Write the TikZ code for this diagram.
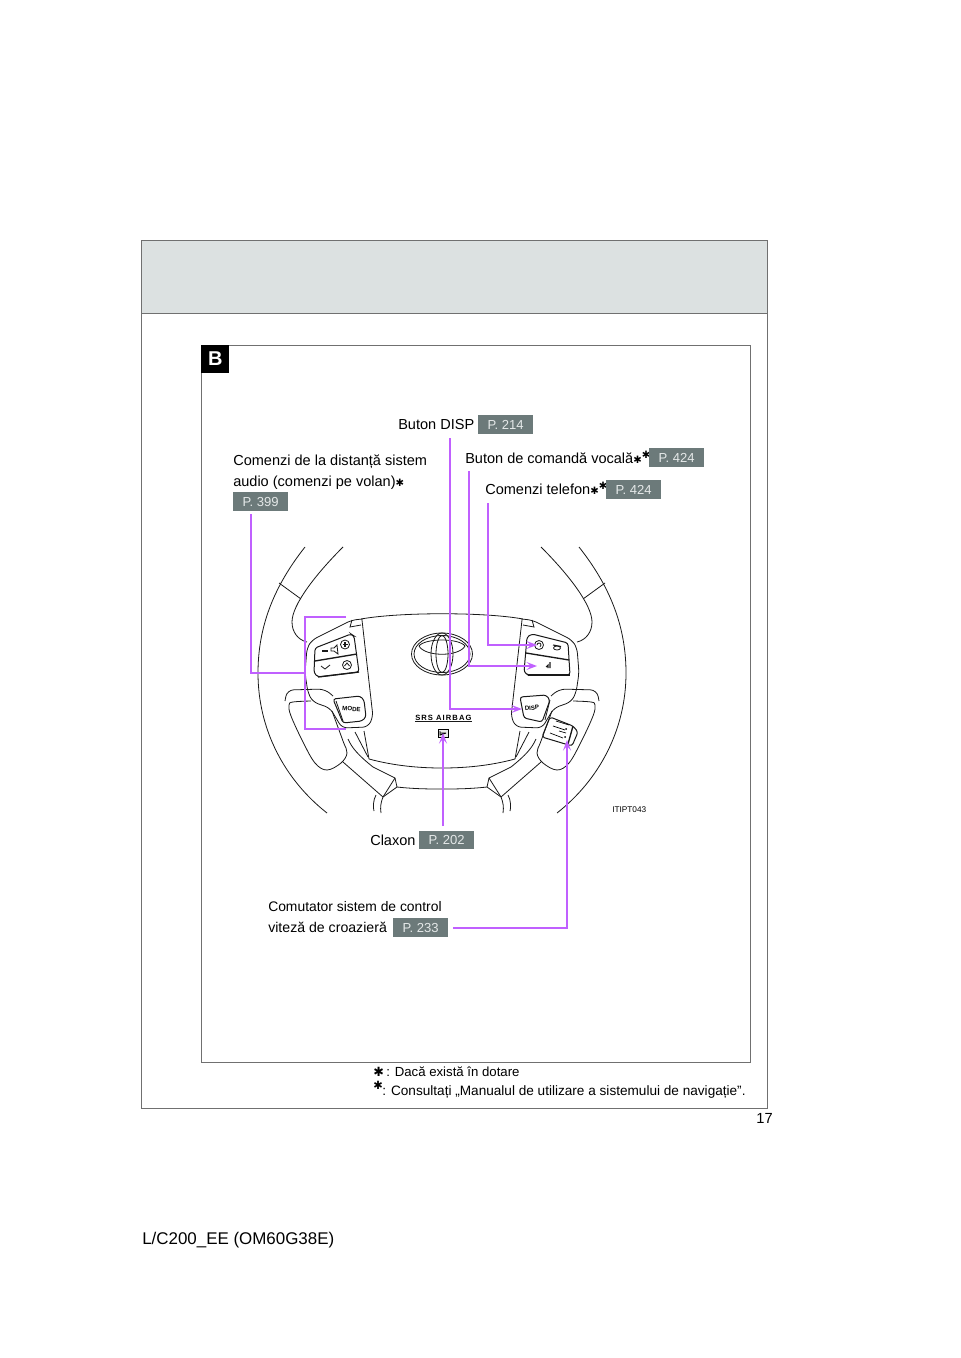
\documentclass[tikz,border=0pt]{standalone}
\usepackage{fontspec}
\setmainfont{Liberation Sans}
\newfontfamily\djv{DejaVu Sans}
\newfontfamily\wide[LetterSpace=14,Scale=1]{Liberation Sans}
\usetikzlibrary{arrows.meta}
\definecolor{mag}{HTML}{C060FF}
\definecolor{tagbg}{HTML}{6C7A7A}
\definecolor{tagfg}{HTML}{E4E8E8}
\definecolor{band}{HTML}{DCE1E1}
\definecolor{frameg}{HTML}{707070}
\newcommand{\myast}{{\djv\fontsize{7.6}{12}\selectfont ✱}}
\newcommand{\astsup}{\raisebox{3.6pt}{\djv\fontsize{7.6}{12}\selectfont ✱}}
\tikzset{
  lab/.style={anchor=base west,inner sep=0pt,font=\fontsize{10.9}{13}\selectfont},
  tag/.style={fill=tagbg,text=tagfg,inner sep=0pt,minimum width=41pt,minimum height=14pt,anchor=north west,font=\fontsize{9.8}{12}\selectfont},
  note/.style={anchor=base west,inner sep=0pt,font=\fontsize{9.9}{12}\selectfont},
  ln/.style={line width=0.6pt,black!90},
  smoothln/.style={ln,smooth,tension=0.6},
  conn/.style={mag,line width=1.1pt},
  arr/.style={conn,-{Stealth[length=8pt,width=6pt,inset=3.5pt]}},
  btn/.style={ln,rounded corners=2pt}
}
\newcommand{\halfwheel}{%
  \draw[ln] (305,547) .. controls (275,585) and (258,625) .. (258,673) .. controls (258,730) and (285,780) .. (327,813);
  \draw[ln] (343,547) .. controls (315,575) and (292,605) .. (292,622) .. controls (292,632) and (298,640) .. (307,642);
  \draw[ln] (279,583) -- (301,599);
  % pad outline
  \draw[ln,rounded corners=4pt] (363,619) -- (352,620) -- (312,640) -- (307,648) -- (305,673) -- (308,693) -- (313,702) -- (330,708) -- (342,728) -- (368,727) -- (373,717) -- (362,620);
  \draw[ln] (352,620) -- (350,627) -- (361,625);
  % arc above grip
  \draw[ln,rounded corners=5pt] (285,701) -- (287,690) -- (325,689) -- (333,696);
  % grip
  \draw[smoothln] plot coordinates {(311,701)(293,702)(289,705)(291,716)(303,742)(315,763)(327,770)(341,763)(347,753)(343,741)(332,711)};
  % lower spoke
  \draw[ln] (343,762) -- (383,797);
  \draw[ln] (348,739) .. controls (352,748) and (358,755) .. (373,767) -- (395,778) -- (397,787) -- (383,797) .. controls (381,802) and (380,807) .. (381,813);
  \draw[ln] (395,778) -- (383,797);
  \draw[ln] (364,731) -- (369,759);
  \draw[ln] (355,732) -- (368,757);
  \draw[ln] (376,795) .. controls (373,800) and (373,808) .. (374,811);
  \draw[ln] (369,759) .. controls (395,766) and (420,768) .. (442,768);
  \draw[ln] (397,787) .. controls (415,789) and (430,789) .. (442,789);
}
\begin{document}
\begin{tikzpicture}[x=0.75pt,y=-0.75pt]
\useasboundingbox (0,0) rectangle (960,1358);
% frames
\fill[band] (141,240) rectangle (768,313.5);
\draw[frameg,line width=0.7pt] (141,240) rectangle (767.5,1108);
\draw[frameg,line width=0.7pt] (141,313.5) -- (767.5,313.5);
\draw[frameg,line width=0.7pt] (201,345) rectangle (750,1062);
\node[fill=black,text=white,minimum width=21pt,minimum height=20.5pt,inner sep=0pt,anchor=north west,font=\bfseries\fontsize{15}{16}\selectfont] (secB) at (201,345) {B};
% wheel
\halfwheel
\begin{scope}[xshift=663pt,xscale=-1]
\halfwheel
\end{scope}
% airbag top
\draw[ln] (361,619) .. controls (400,612) and (485,612) .. (523,619);
% left switches
\draw[btn,line width=0.75pt] (315,648) -- (351,634) -- (354,636) -- (359,672) -- (318,677) -- (314,673) -- cycle;
\draw[ln,line width=1pt] (315,661) -- (357,654);
\draw[ln,line width=1pt] (318,677) -- (359,672);
\draw[ln,line width=1pt] (322,651) -- (328,651);
\draw[ln] (331,648) -- (334,648) -- (337,645) -- (338,654) -- (334,651) -- (331,651) -- cycle;
\draw[ln] (345,644.5) circle (4.5);
\draw[ln,line width=.8pt] (342.5,644.5) -- (347.5,644.5) (345,642) -- (345,647);
\draw[ln] (321,666) -- (325,669) -- (330,665);
\draw[ln] (347,665) circle (4.5);
\draw[ln] (344.5,666) -- (347,663) -- (349.5,666);
% MODE
\draw[btn,line width=0.75pt] (333,699) -- (360,696) -- (364,700) -- (366,717) -- (362,721) -- (343,723) -- cycle;
\draw[ln] (336,701) -- (343,721);
\node[inner sep=0pt,rotate=-4,font=\bfseries\fontsize{4.6}{5}\selectfont] (modeTxt) at (351.5,709) {MODE};
% logo
\draw[ln] (442,654) ellipse (30.5 and 21);
\draw[ln] (442,654) ellipse (28 and 18.5);
\draw[ln] (442,654) ellipse (11 and 21);
\draw[ln] (442,654) ellipse (6 and 18.5);
\draw[ln] (419,646) .. controls (425,638) and (459,638) .. (465,646);
\draw[ln] (419,646) .. controls (425,657) and (459,657) .. (465,646);
% srs
\node[inner sep=0pt,anchor=base west,font=\wide\bfseries\fontsize{5.7}{6}\selectfont] (srs) at (415,720) {SRS AIRBAG};
\draw[ln] (415,721.5) -- (472,721.5);
\node[draw,line width=.5pt,minimum width=7.5pt,minimum height=6pt,inner sep=0pt,fill=black!8] (horn) at (443,733) {};
\draw[line width=.7pt] (440,731) -- (440,735) -- (446,733) (440,733) -- (446,733);
% right switches
\draw[btn,line width=0.75pt] (527,637) -- (532,634) -- (568,643) -- (570,675) -- (528,675) -- (524,672) -- cycle;
\draw[ln,line width=1pt] (526,653) -- (569,660);
\draw[ln,line width=1pt] (528,675) -- (570,675);
\draw[ln] (539,645) circle (4.5);
\draw[ln] (537,645) arc (180:420:2);
\draw[ln] (557,648) ellipse (3.5 and 2);
\draw[ln,line width=.8pt] (553,645) -- (561,646.5);
\draw[ln,line width=.8pt] (546,667) -- (548,665) -- (548,668) (550,662) -- (550,668);
% DISP
\draw[btn,line width=0.75pt] (520,697) -- (546,695) -- (550,700) -- (542,722) -- (524,718) -- cycle;
\draw[ln] (550,700) -- (545,720);
\node[inner sep=0pt,rotate=5,font=\bfseries\fontsize{4.6}{5}\selectfont] (dispTxt) at (532,708) {DISP};
% cruise stalk
\draw[btn,line width=0.75pt] (550,717) -- (573,726) -- (578,732) -- (572,746) -- (542,737) -- cycle;
\draw[ln,line width=1pt] (573,726) -- (568,744);
\draw[line width=.5pt] (556,721) -- (569,725) (553,726) -- (565,730) (559,731) -- (566,733) (550,733) -- (563,738);
\fill (566,729) circle (1) (565,737) circle (1);
% text
\node[lab] (dispLab) at (398,429) {Buton DISP};
\node[tag] (dispTag) at (478,415) {P. 214};
\node[lab] (voiceLab) at (465,463) {Buton de comandă vocală\myast\astsup};
\node[tag] (voiceTag) at (649,448) {P. 424};
\node[lab] (audioA) at (233,465) {Comenzi de la distanță sistem};
\node[lab] (audioB) at (233,486) {audio (comenzi pe volan)\myast};
\node[tag] (audioTag) at (233,492) {P. 399};
\node[lab] (phoneLab) at (485,494) {Comenzi telefon\myast\astsup};
\node[tag] (phoneTag) at (606,480) {P. 424};
\node[lab] (hornLab) at (370,845) {Claxon};
\node[tag] (hornTag) at (419,830.5) {P. 202};
\node[lab,font=\fontsize{10.4}{13}\selectfont] (cruiseA) at (268,911) {Comutator sistem de control};
\node[lab,font=\fontsize{10.6}{13}\selectfont] (cruiseB) at (268,932) {viteză de croazieră};
\node[tag] (cruiseTag) at (393,918) {P. 233};
\node[inner sep=0pt,anchor=base west,font=\fontsize{6.2}{7}\selectfont] (code) at (612,812) {ITIPT043};
\node[note] (noteA) at (373,1076) {\makebox[9.75pt][l]{\djv\fontsize{9.5}{12}\selectfont ✱}: Dacă există în dotare};
\node[note,font=\fontsize{10.2}{12}\selectfont] (noteB) at (373,1095) {\makebox[6.75pt][l]{\raisebox{4.5pt}[0pt][0pt]{\djv\fontsize{8.5}{12}\selectfont ✱}}: Consultați „Manualul de utilizare a sistemului de navigație”.};
\node[inner sep=0pt,anchor=base east,font=\fontsize{11}{13}\selectfont] (pageNo) at (773,1123) {17};
\node[inner sep=0pt,anchor=base west,font=\fontsize{12.7}{15}\selectfont] (footer) at (142,1244) {L/C200\_EE (OM60G38E)};
% connectors
\coordinate (dS) at (450,438); \coordinate (dK) at (450,709); \coordinate (dE) at (522,709);
\coordinate (vS) at (469,471); \coordinate (vK) at (469,666); \coordinate (vE) at (537,666);
\coordinate (pS) at (488,503); \coordinate (pK) at (488,645); \coordinate (pE) at (537,645);
\coordinate (aS) at (251,514); \coordinate (aK) at (251,673); \coordinate (aE) at (305,673);
\coordinate (bA) at (346,617); \coordinate (bB) at (305,617); \coordinate (bC) at (305,729); \coordinate (bD) at (346,729);
\coordinate (hS) at (443,826); \coordinate (hE) at (443,733);
\coordinate (cS) at (453,928); \coordinate (cK) at (567,928); \coordinate (cE) at (567,740);
\draw[arr] (dS) -- (dK) -- (dE);
\draw[arr] (vS) -- (vK) -- (vE);
\draw[arr] (pS) -- (pK) -- (pE);
\draw[conn] (aS) -- (aK) -- (aE);
\draw[conn] (bA) -- (bB) -- (bC) -- (bD);
\draw[arr] (hS) -- (hE);
\draw[arr] (cS) -- (cK) -- (cE);
\end{tikzpicture}
\end{document}
